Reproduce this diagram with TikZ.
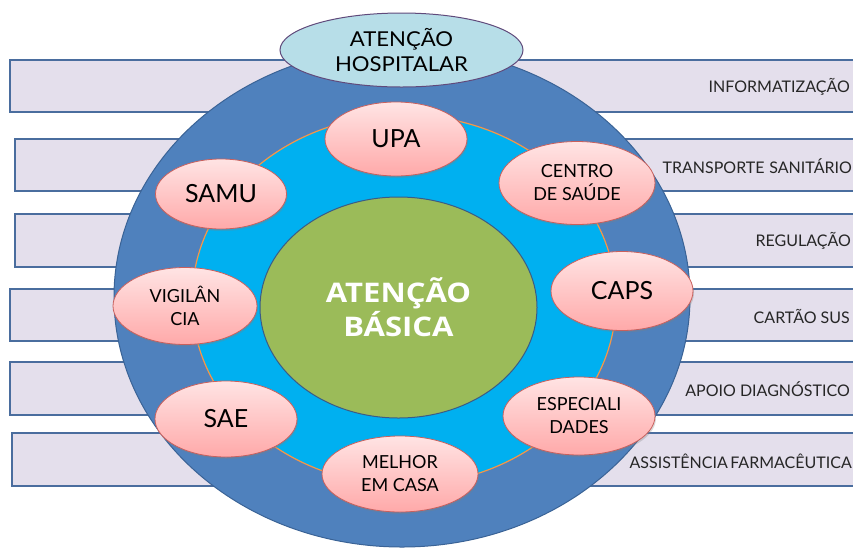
\documentclass[tikz,border=0pt]{standalone}
\usepackage{fontspec}
\setmainfont{Lato}
\newfontfamily\corefont{Open Sans}[FakeStretch=1.15]
\newfontfamily\hospfont{Lato}[FakeStretch=1.08]
\usetikzlibrary{shapes.geometric,shadows}
\definecolor{barfill}{HTML}{E4DFEC}
\definecolor{barline}{HTML}{4A6D9E}
\definecolor{ringblue}{HTML}{4F81BD}
\definecolor{ringline}{HTML}{3A6396}
\definecolor{ringcyan}{HTML}{00B0F0}
\definecolor{ringorange}{HTML}{F79646}
\definecolor{coregreen}{HTML}{9BBB59}
\definecolor{coreline}{HTML}{3B5C86}
\definecolor{pinktop}{HTML}{FFE4E4}
\definecolor{pinkbot}{HTML}{FFA9A9}
\definecolor{pinkline}{HTML}{C9605D}
\definecolor{hospfill}{HTML}{B7DEE8}
\definecolor{hospline}{HTML}{604A7B}

\begin{document}
\begin{tikzpicture}[x=1pt,y=1pt]
\tikzstyle{every node}+=[inner sep=0pt]
\tikzstyle{bar}=[draw=barline, fill=barfill, line width=1.5pt]
\tikzstyle{barlabel}=[anchor=east, text=black!85, font=\fontsize{16}{18}\selectfont]
\tikzstyle{ball}=[ellipse, draw=pinkline, line width=0.8pt, top color=pinktop, bottom color=pinkbot, align=center, drop shadow={shadow xshift=1pt, shadow yshift=-2pt, opacity=0.3}]
\tikzstyle{bigtext}=[font=\fontsize{25}{28}\selectfont]
\tikzstyle{smalltext}=[font=\fontsize{18}{23}\selectfont]
\useasboundingbox (0,0) rectangle (853,-547);
% bars
\draw [bar] (10,-60) rectangle (860,-112);
\draw [bar] (15,-139) rectangle (860,-191);
\draw [bar] (15,-214) rectangle (860,-267);
\draw [bar] (10,-289) rectangle (860,-341);
\draw [bar] (10,-362) rectangle (860,-415);
\draw [bar] (12,-433) rectangle (860,-486);
\node [barlabel] (info) at (850,-87) {INFORMATIZAÇÃO};
\node [barlabel] (transp) at (852,-166) {TRANSPORTE\hspace{0.3em}SANITÁRIO};
\node [barlabel] (regul) at (851,-241) {REGULAÇÃO};
\node [barlabel] (cartao) at (850,-316) {CARTÃO SUS};
\node [barlabel] (apoio) at (850,-389) {APOIO DIAGNÓSTICO};
\node [barlabel] (farma) at (852,-461) {ASSISTÊNCIA\hspace{0.15em}FARMACÊUTICA};
% rings
\draw [draw=ringline, fill=ringblue, line width=1pt] (402,-297) ellipse (288pt and 250pt);
\draw [draw=ringorange, fill=ringcyan, line width=1.2pt] (404,-300) ellipse (212pt and 185pt);
\node [ellipse, draw=coreline, fill=coregreen, line width=1pt, minimum width=277pt, minimum height=221pt, align=center, text=white, font=\corefont\bfseries\fontsize{27}{34}\selectfont] (basica) at (398.5,-307.5) {ATENÇÃO\\BÁSICA};
% services
\node [ball, bigtext, minimum width=142pt, minimum height=74pt] (upa) at (396,-139) {UPA};
\node [ball, bigtext, minimum width=131pt, minimum height=70pt] (samu) at (221,-194) {SAMU};
\node [ball, smalltext, minimum width=156pt, minimum height=83pt] (centro) at (577,-183) {CENTRO\\DE SAÚDE};
\node [ball, smalltext, minimum width=144pt, minimum height=77pt] (vigi) at (185,-306) {VIGILÂN\\CIA};
\node [ball, bigtext, minimum width=142pt, minimum height=79pt] (caps) at (622,-291) {CAPS};
\node [ball, bigtext, minimum width=142pt, minimum height=76pt] (sae) at (226,-419) {SAE};
\node [ball, smalltext, minimum width=152pt, minimum height=78pt] (espec) at (579,-416) {ESPECIALI\\DADES};
\node [ball, smalltext, minimum width=156pt, minimum height=76pt] (melhor) at (400,-474) {MELHOR\\EM CASA};
% top
\node [ellipse, draw=hospline, fill=hospfill, line width=1pt, minimum width=243pt, minimum height=74pt, align=center, font=\hospfont\fontsize{20.5}{25.5}\selectfont] (hosp) at (401.5,-50) {ATENÇÃO\\HOSPITALAR};
\end{tikzpicture}
\end{document}
